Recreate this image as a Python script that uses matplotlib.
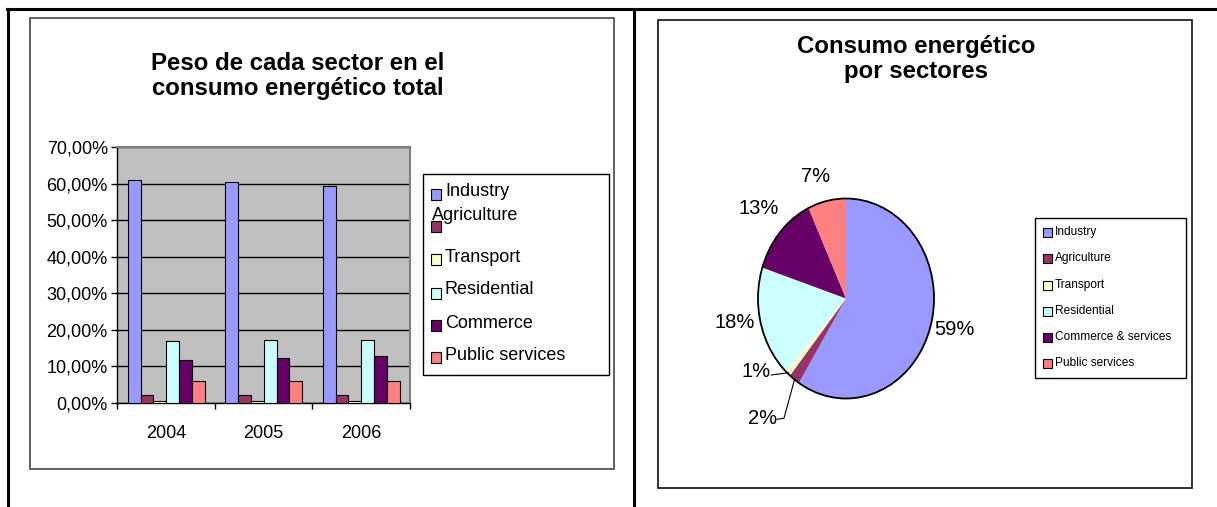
import matplotlib
matplotlib.use("Agg")
import matplotlib.pyplot as plt
import numpy as np
from matplotlib.transforms import Affine2D
from matplotlib.patches import Rectangle, Circle
from matplotlib.lines import Line2D
from matplotlib.ticker import FuncFormatter, FixedLocator
from matplotlib import font_manager

# ---------------- data ----------------
years = ["2004", "2005", "2006"]
sectors = ["Industry", "Agriculture", "Transport", "Residential",
           "Commerce & services", "Public services"]
industry = [61.1, 60.3, 59.2]
agriculture = [2.1, 2.1, 2.1]
transport = [0.6, 0.6, 0.6]
residential = [16.9, 17.2, 17.2]
commerce = [11.8, 12.3, 12.9]
public_services = [6.1, 6.1, 6.1]
pie_values = [59, 2, 1, 18, 13, 7]
colors = ["#9999FF", "#993366", "#FFFFCC", "#CCFFFF", "#660066", "#FF8080"]
bar_title = "Peso de cada sector en el\nconsumo energético total"
pie_title = "Consumo energético\npor sectores"

W, H = 1217, 507
fig = plt.figure(figsize=(W / 100, H / 100), dpi=100)
fig.patch.set_facecolor("white")
PX = Affine2D().scale(1 / W, -1 / H).translate(0, 1) + fig.transFigure

names = {f.name for f in font_manager.fontManager.ttflist}
SANS = "Liberation Sans" if "Liberation Sans" in names else "DejaVu Sans"
plt.rcParams["font.family"] = [SANS, "DejaVu Sans"]


def ax_rect(l, t, r, b):
    return [l / W, 1 - b / H, (r - l) / W, (b - t) / H]


# ---------------- page frame ----------------
fig.add_artist(Line2D([7, W], [9, 9], color="black", lw=2.2, transform=PX))
fig.add_artist(Line2D([8, 8], [9, H], color="black", lw=2.2, transform=PX))
fig.add_artist(Line2D([634, 634], [9, H], color="black", lw=2.2, transform=PX))
fig.add_artist(Rectangle((30, 18), 584, 451, fill=False, ec="#555555", lw=1.3, transform=PX))
fig.add_artist(Rectangle((658, 20), 534, 468, fill=False, ec="#222222", lw=1.3, transform=PX))

# ---------------- bar chart ----------------
ax = fig.add_axes(ax_rect(117.5, 147, 410, 403))
ax.set_facecolor("#C0C0C0")
series = [industry, agriculture, transport, residential, commerce, public_services]
n = len(series)
bw = 0.131
x = np.arange(len(years)) + 0.5
for i, vals in enumerate(series):
    ax.bar(x + (i - (n - 1) / 2) * bw, np.array(vals) / 100, width=bw,
           color=colors[i], edgecolor="black", linewidth=0.8, zorder=3)
ax.set_xlim(0, 3)
ax.set_ylim(0, 0.7)
ax.set_yticks(np.arange(0, 0.71, 0.1))
ax.yaxis.set_major_formatter(FuncFormatter(lambda v, p: f"{v*100:.2f}%".replace(".", ",")))
ax.yaxis.grid(True, color="black", lw=1, zorder=1)
ax.set_axisbelow(True)
ax.xaxis.set_major_locator(FixedLocator([0, 1, 2, 3]))
ax.xaxis.set_minor_locator(FixedLocator(list(x)))
ax.set_xticklabels([])
ax.set_xticklabels(years, minor=True)
ax.tick_params(axis="x", which="major", direction="out", length=4, width=1, color="black")
ax.tick_params(axis="x", which="minor", length=0, pad=16, labelsize=13)
ax.tick_params(axis="y", direction="out", length=4, width=1, pad=3, labelsize=13)
for s in ["top", "right"]:
    ax.spines[s].set_color("#808080")
    ax.spines[s].set_linewidth(1.5)
for s in ["left", "bottom"]:
    ax.spines[s].set_color("black")
    ax.spines[s].set_linewidth(1)

fig.text(298, 76, bar_title, transform=PX, ha="center", va="center",
         fontsize=17.3, fontweight="bold", linespacing=1.12)

# left legend (manual, as in the original layout)
fig.add_artist(Rectangle((423, 174), 186, 201, fc="white", ec="black", lw=1, transform=PX))
leg_sq_top = [189, 221, 254, 288, 320, 352]
leg_txt = [(445, 192), (432, 216), (445, 258), (445, 290), (445, 323), (445, 355)]
for i, name in enumerate(sectors):
    fig.add_artist(Rectangle((430.5, leg_sq_top[i]), 10.5, 11, fc=colors[i], ec="black",
                             lw=0.8, transform=PX, zorder=4))
    label = name.split(" & ")[0]  # the original legend cuts this entry to its first line
    fig.text(leg_txt[i][0], leg_txt[i][1], label, transform=PX, ha="left", va="center",
             fontsize=13, zorder=3)

# ---------------- pie chart ----------------
cx, cy, rx, ry = 846, 298.5, 88, 100
pax = fig.add_axes(ax_rect(cx - 1.5 * rx, cy - 1.5 * ry, cx + 1.5 * rx, cy + 1.5 * ry))
wedges, _ = pax.pie(pie_values, colors=colors, startangle=90, counterclock=False,
                    wedgeprops=dict(linewidth=0))
pax.set_aspect("auto")
pax.set_xlim(-1.5, 1.5)
pax.set_ylim(-1.5, 1.5)
pax.axis("off")
pax.add_patch(Circle((0, 0), 1, fill=False, ec="black", lw=1.3, zorder=5))

total = sum(pie_values)
pct_labels = [f"{v / total * 100:.0f}%" for v in pie_values]
label_pos = [(1.227, -0.315), (-0.943, -1.195), (-1.023, -0.735),
             (-1.261, -0.245), (-0.989, 0.895), (-0.341, 1.215)]
for i, lab in enumerate(pct_labels):
    pax.text(label_pos[i][0], label_pos[i][1], lab, ha="center", va="center",
             fontsize=14.5)

mid = [np.deg2rad((w.theta1 + w.theta2) / 2) for w in wedges]
# leader lines for the small slices
a = mid[2]
pax.plot([-0.85, np.cos(a) * 0.99], [-0.765, np.sin(a) * 0.99], color="black", lw=0.8)
a = mid[1]
pax.plot([-0.785, -0.705, np.cos(a) * 0.99], [-1.208, -1.198, np.sin(a) * 0.99],
         color="black", lw=0.8)

fig.text(916, 59, pie_title, transform=PX, ha="center", va="center",
         fontsize=17.3, fontweight="bold", linespacing=1.12)

fig.add_artist(Rectangle((1035, 218), 151, 160, fc="white", ec="black", lw=1, transform=PX))
pie_leg_y = [232, 258, 285, 311, 337, 363]
for i, name in enumerate(sectors):
    fig.add_artist(Rectangle((1043, pie_leg_y[i] - 4.5), 8.5, 9, fc=colors[i], ec="black",
                             lw=0.8, transform=PX, zorder=4))
    fig.text(1055, pie_leg_y[i], name, transform=PX, ha="left", va="center",
             fontsize=8.6)

fig.savefig("out.png", dpi=100, facecolor="white")
